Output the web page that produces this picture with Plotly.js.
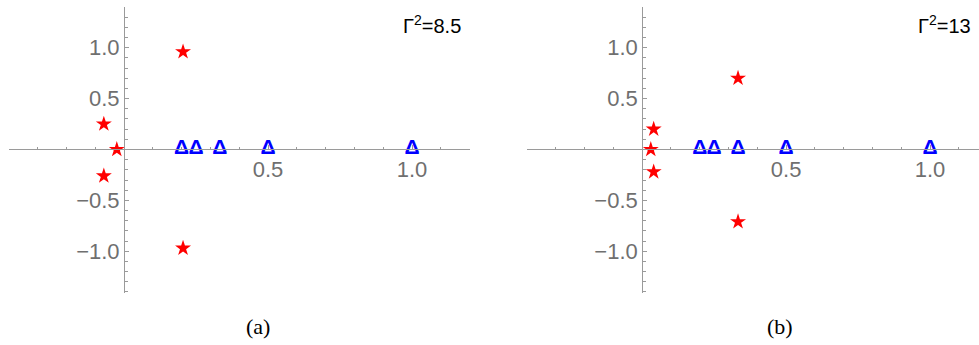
<!DOCTYPE html>
<html>
<head>
<meta charset="utf-8">
<script src="https://cdn.plot.ly/plotly-3.0.1.min.js"></script>
<style>
  html, body { margin: 0; padding: 0; background: #fff; }
  #chart { width: 979px; height: 345px; }
</style>
</head>
<body>
<div id="chart"></div>
<script>
// Panel (a): Γ² = 8.5
const starsA_x = [0.205, 0.205, -0.07, -0.025, -0.07];
const starsA_y = [0.96, -0.97, 0.25, 0.0, -0.26];
// Panel (b): Γ² = 13
const starsB_x = [0.333, 0.333, 0.04, 0.03, 0.04];
const starsB_y = [0.70, -0.71, 0.20, 0.0, -0.22];
// Poles on the real axis (same in both panels)
const triX = [0.2, 0.25, 0.333, 0.5, 1.0];
const triY = [0.01, 0.01, 0.01, 0.01, 0.01];
const panelLabels = ['Γ<sup>2</sup>=8.5', 'Γ<sup>2</sup>=13'];
const captions = ['(a)', '(b)'];
const xTicks = [0.5, 1.0];
const yTicks = [-1.0, -0.5, 0.5, 1.0];

const W = 979, H = 345;
const yRange = [-1.41, 1.40];
const yTopPx = 7, yBotPx = 293;
const yDomain = [1 - yBotPx / H, 1 - yTopPx / H];
const yZeroPaper = yDomain[0] + (yDomain[1] - yDomain[0]) * (0 - yRange[0]) / (yRange[1] - yRange[0]);

const fmt = v => (v < 0 ? '\u2212' : '') + Math.abs(v).toFixed(1);
const tickFont = { family: 'Liberation Sans, Arial, sans-serif', size: 22, color: '#6f6f6f' };
const axisGray = '#9a9a9a';

function xAxis(domain, range) {
  const xZeroPaper = domain[0] + (domain[1] - domain[0]) * (0 - range[0]) / (range[1] - range[0]);
  return {
    ax: {
      domain: domain, range: range, anchor: 'free', position: yZeroPaper,
      showgrid: false, zeroline: false, showline: true, linecolor: axisGray, linewidth: 1,
      tickmode: 'array', tickvals: xTicks, ticktext: xTicks.map(fmt),
      ticks: 'inside', ticklen: 4, tickcolor: axisGray, tickwidth: 1,
      minor: { dtick: 0.1, tick0: 0, ticks: 'inside', ticklen: 2.5, tickcolor: axisGray, showgrid: false },
      tickfont: tickFont,
      fixedrange: true
    },
    zero: xZeroPaper
  };
}

function yAxis(xZeroPaper) {
  return {
    domain: yDomain, range: yRange, anchor: 'free', position: xZeroPaper,
    showgrid: false, zeroline: false, showline: true, linecolor: axisGray, linewidth: 1,
    tickmode: 'array', tickvals: yTicks, ticktext: yTicks.map(fmt),
    ticks: 'inside', ticklen: 4, tickcolor: axisGray, tickwidth: 1,
    minor: { dtick: 0.1, tick0: 0, ticks: 'inside', ticklen: 2.5, tickcolor: axisGray, showgrid: false },
    tickfont: tickFont,
    fixedrange: true
  };
}

const xa = xAxis([8.8 / W, 469.6 / W], [-0.4, 1.2]);
const xb = xAxis([527 / W, 1.0], [-0.4, 1.17]);

const starStyle = { symbol: 'star', size: 12, color: '#ff0000', line: { width: 0 } };
const triFont = { family: 'Liberation Sans, Arial, sans-serif', size: 21, color: '#0000ff', weight: 'bold' };

const traces = [
  { x: starsA_x, y: starsA_y, xaxis: 'x', yaxis: 'y', mode: 'markers', marker: starStyle, hoverinfo: 'skip' },
  { x: triX, y: triY, xaxis: 'x', yaxis: 'y', mode: 'text', text: triX.map(() => 'Δ'),
    textposition: 'middle center', textfont: triFont, hoverinfo: 'skip' },
  { x: starsB_x, y: starsB_y, xaxis: 'x2', yaxis: 'y2', mode: 'markers', marker: starStyle, hoverinfo: 'skip' },
  { x: triX, y: triY, xaxis: 'x2', yaxis: 'y2', mode: 'text', text: triX.map(() => 'Δ'),
    textposition: 'middle center', textfont: triFont, hoverinfo: 'skip' }
];

const labelFont = { family: 'Liberation Sans, Arial, sans-serif', size: 20, color: '#000' };
const capFont = { family: 'Liberation Serif, Times New Roman, serif', size: 22, color: '#000' };

const layout = {
  width: W, height: H,
  margin: { l: 0, r: 0, t: 0, b: 0 },
  paper_bgcolor: '#fff', plot_bgcolor: 'rgba(0,0,0,0)',
  showlegend: false,
  xaxis: xa.ax,
  yaxis: yAxis(xa.zero),
  xaxis2: xb.ax,
  yaxis2: yAxis(xb.zero),
  annotations: [
    { xref: 'paper', yref: 'paper', x: 463 / W, y: 1 - 24 / H, xanchor: 'right', yanchor: 'middle',
      text: panelLabels[0], showarrow: false, font: labelFont },
    { xref: 'paper', yref: 'paper', x: 973 / W, y: 1 - 24 / H, xanchor: 'right', yanchor: 'middle',
      text: panelLabels[1], showarrow: false, font: labelFont },
    { xref: 'paper', yref: 'paper', x: 258 / W, y: 1 - 326 / H, xanchor: 'center', yanchor: 'middle',
      text: captions[0], showarrow: false, font: capFont },
    { xref: 'paper', yref: 'paper', x: 780 / W, y: 1 - 326 / H, xanchor: 'center', yanchor: 'middle',
      text: captions[1], showarrow: false, font: capFont }
  ]
};

Plotly.newPlot('chart', traces, layout, { staticPlot: true, displayModeBar: false });
</script>
</body>
</html>
